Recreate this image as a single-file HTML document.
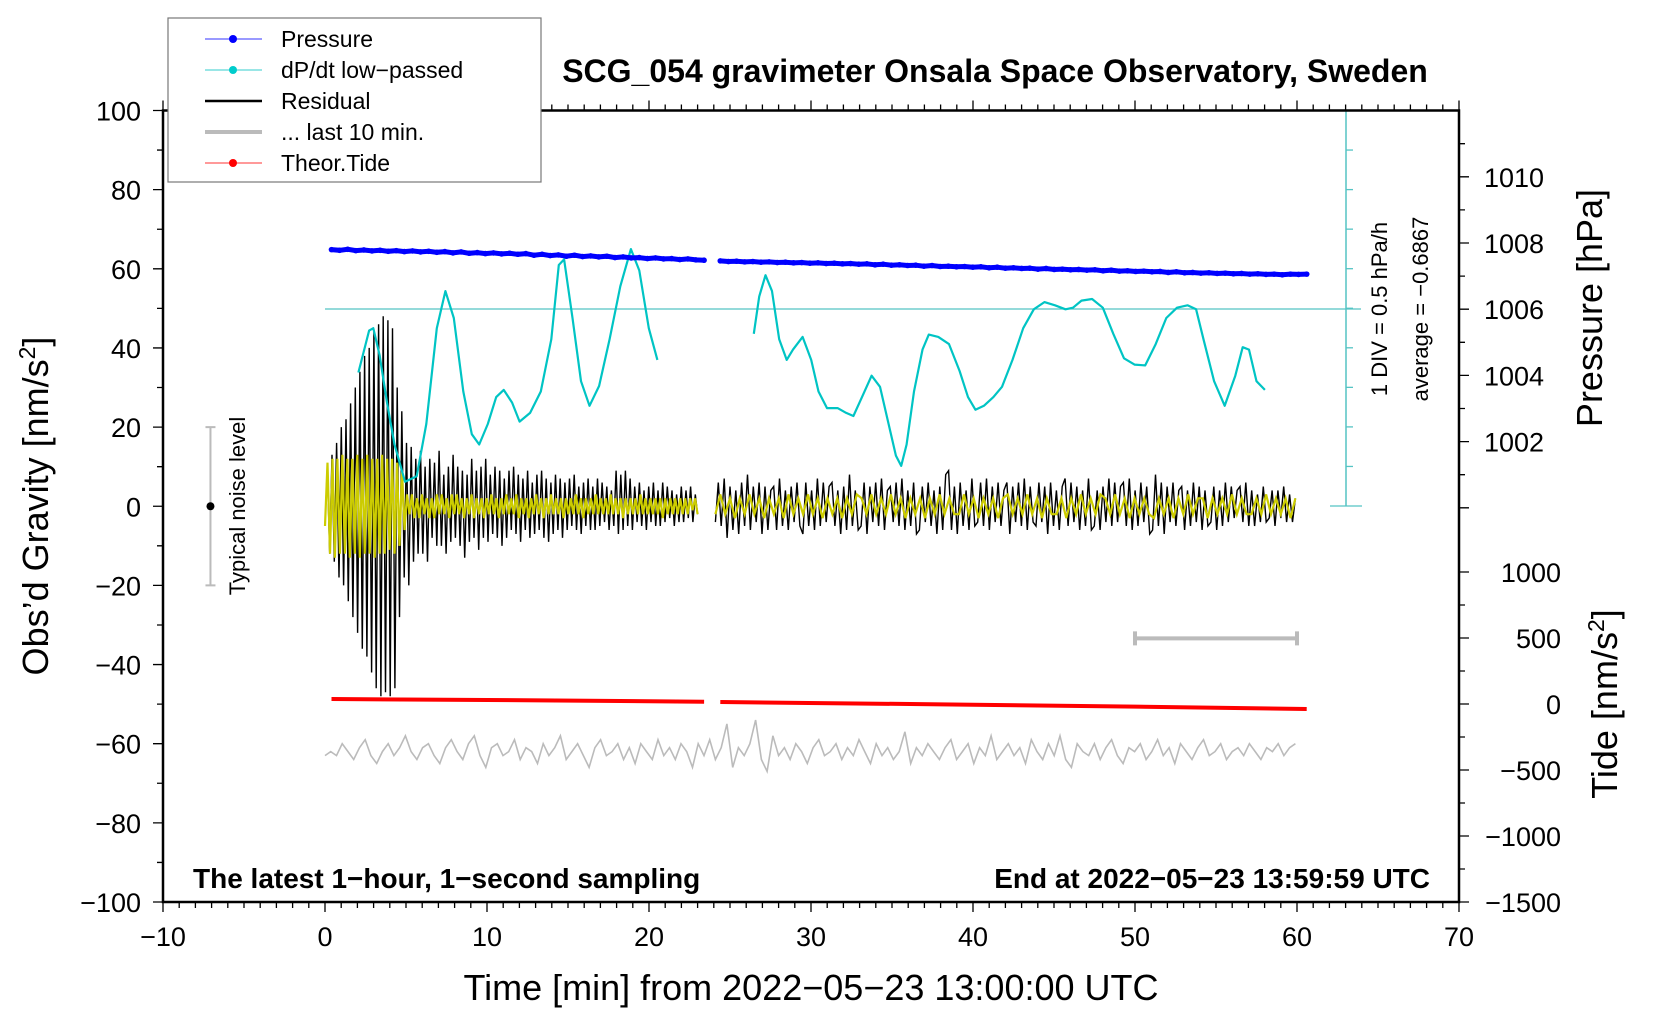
<!DOCTYPE html>
<html><head><meta charset="utf-8"><style>
html,body{margin:0;padding:0;background:#fff;}
svg{display:block;font-family:"Liberation Sans",Arial,sans-serif;}
</style></head><body>
<svg id="chart" width="1660" height="1020" viewBox="0 0 1660 1020" xmlns="http://www.w3.org/2000/svg">
<rect x="0" y="0" width="1660" height="1020" fill="#fff"/>
<g id="marks"></g>
<g id="axes"></g>
<text x="995" y="82" font-size="32" font-weight="bold" text-anchor="middle">SCG_054 gravimeter Onsala Space Observatory, Sweden</text>
<text transform="translate(48,506) rotate(-90)" font-size="36" text-anchor="middle">Obs’d Gravity [nm/s<tspan font-size="23" dy="-13">2</tspan><tspan dy="13">]</tspan></text>
<text transform="translate(1602,308) rotate(-90)" font-size="36" text-anchor="middle">Pressure [hPa]</text>
<text transform="translate(1617,704) rotate(-90)" font-size="36" text-anchor="middle">Tide [nm/s<tspan font-size="23" dy="-13">2</tspan><tspan dy="13">]</tspan></text>
<text x="811" y="1000" font-size="36" text-anchor="middle">Time [min] from 2022−05−23 13:00:00 UTC</text>
<text x="193" y="888" font-size="28" font-weight="bold">The latest 1−hour, 1−second sampling</text>
<text x="1430" y="888" font-size="28" font-weight="bold" text-anchor="end">End at 2022−05−23 13:59:59 UTC</text>
<text transform="translate(1387,309) rotate(-90)" font-size="22" text-anchor="middle">1 DIV = 0.5 hPa/h</text>
<text transform="translate(1428,309) rotate(-90)" font-size="22" text-anchor="middle">average = −0.6867</text>
<text transform="translate(245,506) rotate(-90)" font-size="22" text-anchor="middle">Typical noise level</text>
<g>
<rect x="168" y="18" width="373" height="164" fill="#fff" stroke="#777" stroke-width="1.2"/>
<line x1="205" y1="39" x2="262" y2="39" stroke="#3333ff" stroke-width="1"/><circle cx="233" cy="39" r="4" fill="#0000ff"/>
<text x="281" y="47" font-size="23">Pressure</text>
<line x1="205" y1="70" x2="262" y2="70" stroke="#33cccc" stroke-width="1"/><circle cx="233" cy="70" r="4" fill="#00cccc"/>
<text x="281" y="78" font-size="23">dP/dt low−passed</text>
<line x1="205" y1="101" x2="262" y2="101" stroke="#000" stroke-width="2.5"/>
<text x="281" y="109" font-size="23">Residual</text>
<line x1="205" y1="132" x2="262" y2="132" stroke="#bbb" stroke-width="4"/>
<text x="281" y="140" font-size="23">... last 10 min.</text>
<line x1="205" y1="163" x2="262" y2="163" stroke="#ff3333" stroke-width="1"/><circle cx="233" cy="163" r="4" fill="#ff0000"/>
<text x="281" y="171" font-size="23">Theor.Tide</text>
</g>
</svg>
<script>
// ---- data ----
const resid1Range = [0, 23];
const resid1 = [-5,10,-12,13,-14,16,-18, 20,-20,22,-24,26,-28,30, -32,34,-36,38,-38,40,-42,
 44,-46,46,-48,48,-47,47,-48,45,-46, 30,-28,24,
 -18,16,-20,15,-14,12,-12, 14,-12,10,-14,12,-8,11, -10,14,-10,8,-12,10,-9, 13,-8,10,-10,9,-13,8,
 -9,12,-8,9,-11,10,-8, 12,-9,8,-7,10,-8,9, -10,7,-8,9,-6,10,-7, 8,-9,7,-6,9,-8,6,
 -7,8,-6,9,-8,7,-9, 6,-7,8,-6,7,-8,6, -6,7,-5,8,-6,5,-7, 6,-5,7,-6,5,-6,7,
 -5,6,-4,5,-6,4,-5, 9,-7,8,-6,9,-5,7, -6,5,-4,6,-5,4,-6, 5,-4,6,-5,4,-5,6,
 -4,5,-3,4,-5,3,-4, 5,-4,4,-3,5,-4,3,-2];
const resid2Range = [24.1, 59.9];
const resid2 = [-4,6,-5,7,-8,5,-6,4,-7,6, -5,8,-6,5,-4,6,-7,5,-6,4, 5,-6,7,-5,4,-6,5,-4,6,-5, -7,6,-5,4,-6,7,-5,6,-4,5,
 6,-5,4,-7,5,-6,8,-5,4,-6, -5,6,-7,5,-4,6,-5,7,-6,4, 5,-4,6,-5,7,-6,4,-5,6,-7, -6,5,-4,6,-5,4,-7,5,-6,8,
 9,-6,5,-7,6,-5,4,-6,7,-5, -4,6,-5,7,-6,5,-4,6,-5,4, 6,-7,5,-4,6,-5,7,-6,5,-4, -5,6,-4,5,-7,6,-5,4,-6,5,
 7,-5,6,-4,5,-6,4,-5,7,-6, -5,4,-6,5,-4,7,-5,6,-4,5, 6,-5,7,-6,4,-5,6,-4,5,-7, -6,8,-5,6,-7,5,-4,6,-5,4,
 5,-6,4,-5,6,-4,5,-6,4,-5, -4,5,-6,4,-5,6,-4,5,-3,4, 5,-4,6,-5,4,-5,3,-4,5,-4, -3,4,-5,4,-3,5,-4,3,-4,2];
const smooth1 = [-5,11,-12,12,-13,12,-12,13,-12,12,-13,12,-12,13,-13,12,-12,13,-12,12,-13,12,-12,13,-12,12,-11,12,-12,11,-10,9,-6,
 3,-2,3,-3,2,-3,3,-2,2,-3, 2,-3,3,-2,3,-2,2,-3,3,-2, 3,-2,2,-3,2,-2,3,-3,2,-2, 2,-3,2,-2,3,-2,2,-3,2,-2,
 3,-2,2,-2,3,-3,2,-2,2,-3, 2,-2,3,-2,2,-3,2,-2,3,-2, 2,-2,2,-3,2,-2,2,-2,3,-2, 2,-3,2,-2,2,-2,3,-2,2,-2,
 2,-2,3,-2,2,-2,2,-3,2,-2, 2,-2,2,-2,3,-2,2,-2,2,-2, 2,-2,2,-3,2,-2,2,-2,2,-2, 2,-2,2,-2,2,-1,2,-2];
const smooth2 = [-2,3,-2,2,-3,2,-2,3,-2,2, -3,2,-2,2,-3,3,-2,2,-2,3, -2,2,-3,2,-2,2,-3,2,-2,3, 2,-2,3,-2,2,-2,3,-2,2,-3,
 2,-2,2,-3,2,-2,3,-2,2,-2, -2,3,-2,2,-3,2,-2,2,-3,2, 3,-2,2,-2,3,-2,2,-3,2,-2, -2,2,-3,2,-2,3,-2,2,-2,3,
 2,-2,3,-2,2,-3,2,-2,2,-2, -3,2,-2,2,-3,2,-2,3,-2,2, 2,-3,2,-2,2,-2,3,-2,2,-2, -2,2,-2,3,-2,2,-2,2,-3,2];
const dpdtT1 = [2.06,2.72,2.98,3.37,3.83,4.29,4.94,5.66,6.25,6.90,7.43,7.95,8.54,9.06,9.52,10.05,10.57,11.03,11.55,12.01,12.66,13.32,13.97,14.43,14.76,15.28,15.80,16.33,16.92,17.57,18.23,18.88,19.40,19.99,20.52];
const dpdtV1 = [-1.49,-0.96,-0.93,-1.27,-1.87,-2.40,-2.87,-2.80,-2.14,-0.93,-0.46,-0.80,-1.73,-2.27,-2.40,-2.14,-1.80,-1.71,-1.87,-2.11,-2.00,-1.73,-1.07,-0.13,-0.06,-0.80,-1.60,-1.91,-1.66,-1.07,-0.40,0.07,-0.20,-0.93,-1.33];
const dpdtT2 = [26.47,26.80,27.19,27.59,28.04,28.50,28.89,29.48,30.01,30.46,30.99,31.64,32.17,32.62,33.15,33.74,34.26,34.79,35.24,35.57,35.90,36.36,36.88,37.27,37.86,38.52,39.17,39.69,40.15,40.67,41.26,41.79,42.44,43.10,43.75,44.41,45.06,45.71,46.17,46.70,47.35,48.01,48.66,49.32,49.97,50.63,51.28,51.93,52.59,53.24,53.77,54.23,54.88,55.54,56.19,56.65,57.04,57.50,58.02];
const dpdtV2 = [-1.00,-0.53,-0.26,-0.46,-1.07,-1.33,-1.20,-1.04,-1.33,-1.73,-1.94,-1.94,-2.00,-2.04,-1.80,-1.53,-1.67,-2.14,-2.54,-2.67,-2.40,-1.73,-1.20,-1.01,-1.04,-1.13,-1.47,-1.80,-1.96,-1.91,-1.80,-1.67,-1.33,-0.93,-0.69,-0.60,-0.64,-0.69,-0.67,-0.58,-0.56,-0.67,-1.00,-1.31,-1.39,-1.40,-1.13,-0.80,-0.67,-0.64,-0.69,-1.07,-1.60,-1.91,-1.53,-1.17,-1.20,-1.60,-1.71];
const dpdtAverage = -0.6867;
const press1Range = [0.4, 23.4];
const press1 = [1007.80,1007.78,1007.81,1007.77,1007.79,1007.76,1007.78,1007.75,1007.77,1007.74,1007.76,1007.73,1007.75,1007.72,1007.74,1007.70,1007.73,1007.69,1007.71,1007.68,1007.70,1007.67,1007.69,1007.66,1007.68,1007.63,1007.66,1007.62,1007.64,1007.60,1007.63,1007.59,1007.61,1007.58,1007.60,1007.56,1007.58,1007.55,1007.56,1007.53,1007.55,1007.52,1007.53,1007.50,1007.52,1007.49,1007.48];
const press2Range = [24.4, 60.6];
const press2 = [1007.46,1007.44,1007.45,1007.43,1007.44,1007.42,1007.43,1007.41,1007.42,1007.40,1007.41,1007.39,1007.40,1007.38,1007.39,1007.37,1007.38,1007.36,1007.37,1007.34,1007.36,1007.33,1007.34,1007.32,1007.33,1007.30,1007.32,1007.29,1007.30,1007.28,1007.29,1007.27,1007.28,1007.25,1007.27,1007.24,1007.25,1007.23,1007.24,1007.21,1007.23,1007.20,1007.21,1007.19,1007.20,1007.18,1007.19,1007.16,1007.18,1007.15,1007.16,1007.14,1007.15,1007.13,1007.14,1007.11,1007.13,1007.10,1007.11,1007.09,1007.10,1007.08,1007.09,1007.07,1007.08,1007.06,1007.07,1007.05,1007.06,1007.04,1007.06,1007.05,1007.06];
const tideT1 = [0.4, 10, 20, 23.4];
const tideV1 = [38, 30, 21, 17];
const tideT2 = [24.4, 40, 50, 60.6];
const tideV2 = [15, -5, -20, -38];
const grayRange = [0, 59.9];
const grayVals = [-63,-62,-63,-60,-62,-64,-61,-59,-63,-65,-62,-60,-63,-61,-58,-62,-64,-61,-60,-63,-65,-61,-59,-62,-64,-60,-58,-63,-66,-61,
 -60,-63,-62,-59,-64,-61,-62,-65,-60,-63,-61,-58,-64,-62,-60,-63,-66,-61,-59,-63,-62,-60,-64,-61,-65,-60,-62,-64,-59,-63,
 -61,-64,-60,-62,-66,-60,-63,-59,-64,-61,-55,-66,-61,-63,-60,-54,-64,-67,-58,-63,-61,-64,-60,-62,-65,-61,-59,-63,-62,-60,
 -64,-61,-63,-59,-62,-65,-60,-63,-61,-64,-62,-57,-65,-61,-63,-60,-62,-64,-61,-59,-64,-62,-60,-65,-61,-63,-58,-64,-62,-60,
 -63,-61,-65,-59,-62,-64,-60,-63,-58,-64,-66,-60,-62,-63,-60,-64,-61,-59,-63,-65,-61,-62,-60,-64,-62,-59,-63,-61,-65,-60,
 -62,-64,-61,-59,-63,-62,-60,-64,-62,-61,-63,-60,-62,-64,-61,-62,-60,-63,-61,-60];
const noiseBar = [-20, 20];
const noiseBarT = -7.07;
const last10Bar = [50, 60, -33.4];
const xTicks = [-10,0,10,20,30,40,50,60,70];
const yTicks = [100,80,60,40,20,0,-20,-40,-60,-80,-100];
const pTicks = [1010,1008,1006,1004,1002];
const tideTicks = [1000,500,0,-500,-1000,-1500];

// ---- scales ----
const X0 = 163, X1 = 1459, Y0 = 110.5, Y1 = 902;
const DIV = 39.55, AVG_Y = 309, BAR_X = 1346;
function sx(t){ return X0 + (t + 10) / 80 * (X1 - X0); }
function sy(g){ return Y0 + (100 - g) / 200 * (Y1 - Y0); }
function sp(p){ return 176.8 + (1010 - p) * 33.1; }
function st(v){ return 704 - v * 0.132; }
function sd(v){ return AVG_Y + (dpdtAverage - v) / 0.5 * DIV; }

const NS = 'http://www.w3.org/2000/svg';
const marks = document.getElementById('marks');
const axes = document.getElementById('axes');
function mk(tag, attrs, parent){
  const e = document.createElementNS(NS, tag);
  for (const k in attrs) e.setAttribute(k, attrs[k]);
  parent.appendChild(e);
  return e;
}
function evenPath(vals, range, yf){
  const n = vals.length;
  return vals.map((v,i)=>(i?'L':'M')+sx(range[0]+(range[1]-range[0])*i/(n-1)).toFixed(1)+','+yf(v).toFixed(1)).join('');
}
function xyPath(ts, vs, yf){
  return ts.map((t,i)=>(i?'L':'M')+sx(t).toFixed(1)+','+yf(vs[i]).toFixed(1)).join('');
}

let e;
e = mk('line',{x1:sx(0),y1:AVG_Y,x2:BAR_X+15,y2:AVG_Y,stroke:'#55c4c4','stroke-width':1.3},marks);


e = mk('line',{x1:BAR_X,y1:Y0,x2:BAR_X,y2:Y0+10*DIV,stroke:'#55c4c4','stroke-width':1.5},marks);


for (let i=0;i<=10;i++){
  const y = Y0 + i*DIV;
  const cap = (i===0||i===10);
  e = mk('line',{x1:cap?BAR_X-16:BAR_X,y1:y,x2:cap?BAR_X+16:BAR_X+7,y2:y,stroke:'#55c4c4','stroke-width':1.3},marks);
  
  
}

e = mk('path',{d:evenPath(grayVals,grayRange,sy),fill:'none',stroke:'#bbb','stroke-width':1.6},marks);



e = mk('path',{d:evenPath(resid1,resid1Range,sy),fill:'none',stroke:'#000','stroke-width':1.4},marks);


e = mk('path',{d:evenPath(resid2,resid2Range,sy),fill:'none',stroke:'#000','stroke-width':1.4},marks);


e = mk('path',{d:evenPath(smooth1,resid1Range,sy),fill:'none',stroke:'#cccc00','stroke-width':2.2},marks);


e = mk('path',{d:evenPath(smooth2,resid2Range,sy),fill:'none',stroke:'#cccc00','stroke-width':2.2},marks);



e = mk('path',{d:xyPath(dpdtT1,dpdtV1,sd),fill:'none',stroke:'#00c4c4','stroke-width':2.2,'stroke-linejoin':'round'},marks);


e = mk('path',{d:xyPath(dpdtT2,dpdtV2,sd),fill:'none',stroke:'#00c4c4','stroke-width':2.2,'stroke-linejoin':'round'},marks);



[[press1,press1Range],[press2,press2Range]].forEach(([vals,rng],k)=>{
  e = mk('path',{d:evenPath(vals,rng,sp),fill:'none',stroke:'#0000ff','stroke-width':5},marks);
  
  
  vals.forEach((v,i)=>{
    const t = rng[0]+(rng[1]-rng[0])*i/(vals.length-1);
    const c = mk('circle',{cx:sx(t),cy:sp(v),r:2.8,fill:'#0000ff'},marks);
    
    
  });
});

e = mk('path',{d:xyPath(tideT1,tideV1,st),fill:'none',stroke:'#ff0000','stroke-width':4},marks);


e = mk('path',{d:xyPath(tideT2,tideV2,st),fill:'none',stroke:'#ff0000','stroke-width':4},marks);



const nx = sx(noiseBarT);
e = mk('path',{d:`M${nx},${sy(noiseBar[0])}V${sy(noiseBar[1])}M${nx-5},${sy(noiseBar[0])}h10M${nx-5},${sy(noiseBar[1])}h10`,stroke:'#bbb','stroke-width':2,fill:'none'},marks);


e = mk('circle',{cx:nx,cy:sy(0),r:4,fill:'#000'},marks);


const ly = sy(last10Bar[2]);
e = mk('path',{d:`M${sx(last10Bar[0])},${ly}H${sx(last10Bar[1])}M${sx(last10Bar[0])},${ly-7}v14M${sx(last10Bar[1])},${ly-7}v14`,stroke:'#bbb','stroke-width':4,fill:'none'},marks);



e = mk('rect',{x:X0,y:Y0,width:X1-X0,height:Y1-Y0,fill:'none',stroke:'#000','stroke-width':2.5},axes);


let tk = '';
for (let t=-10;t<=70;t++){ const x=sx(t); const major = t%10===0; tk += `M${x},${Y1}v${major?10:6}M${x},${Y0}v${-(major?10:6)}`; }
for (let g=-100; g<=100; g+=10){ const y=sy(g); tk += `M${X0},${y}h${g%20===0?-10:-6}`; }
for (let p=1000;p<=1011;p++){ const y=sp(p); tk += `M${X1},${y}h${p%2===0?10:6}`; }
for (let v=-1500; v<=1000; v+=250){ const y=st(v); tk += `M${X1},${y}h${v%500===0?10:6}`; }
e = mk('path',{d:tk,stroke:'#000','stroke-width':1.3,fill:'none'},axes);


xTicks.forEach(t=>{
  const l = mk('text',{x:sx(t),y:946,'font-size':27,'text-anchor':'middle'},axes);
  l.textContent = String(t).replace('-','−');
  
  
});
yTicks.forEach(g=>{
  const l = mk('text',{x:141,y:sy(g)+10,'font-size':27,'text-anchor':'end'},axes);
  l.textContent = String(g).replace('-','−');
  
  
});
pTicks.forEach(p=>{
  const l = mk('text',{x:1484,y:sp(p)+10,'font-size':27},axes);
  l.textContent = String(p);
  
  
});
tideTicks.forEach(v=>{
  const l = mk('text',{x:1561,y:st(v)+10,'font-size':27,'text-anchor':'end'},axes);
  l.textContent = String(v).replace('-','−');
  
  
});
</script>
</body></html>
